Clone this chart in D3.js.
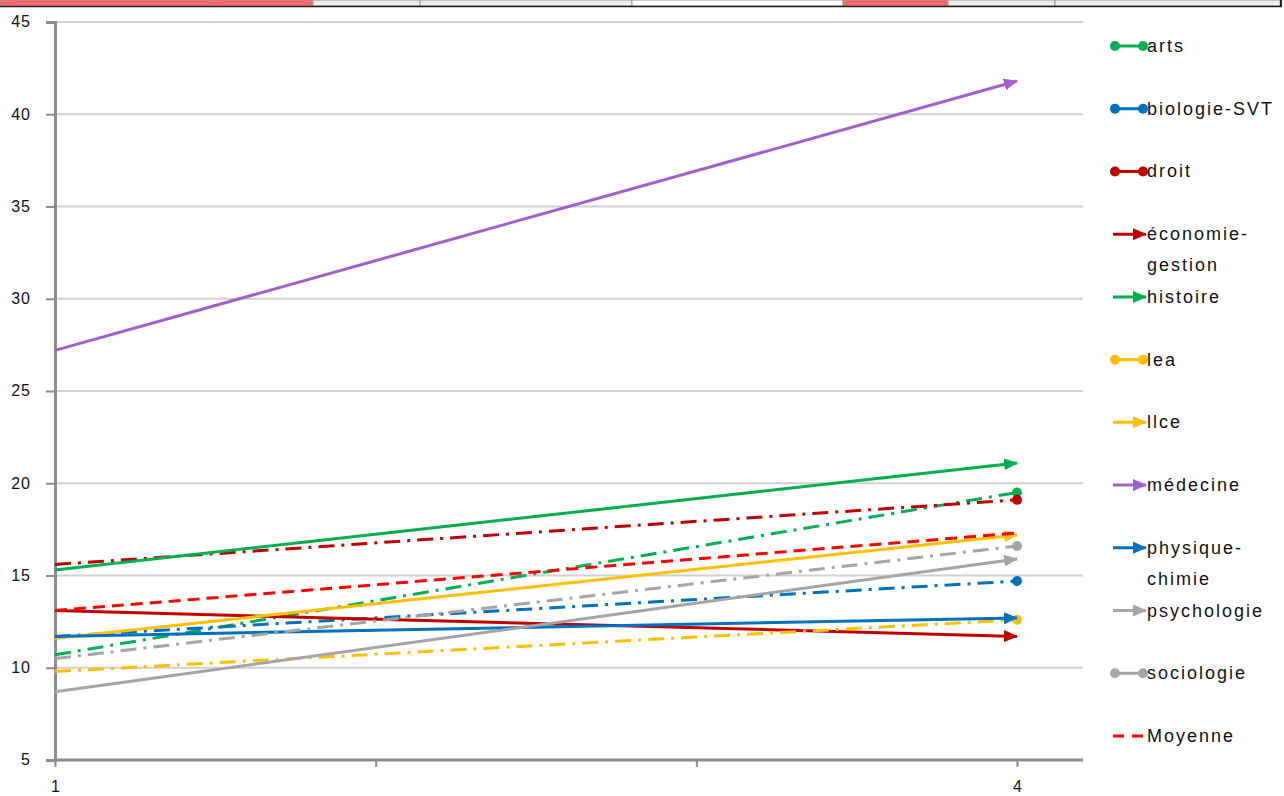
<!DOCTYPE html>
<html><head><meta charset="utf-8">
<script src="https://cdn.jsdelivr.net/npm/d3@7"></script>
<style>body{margin:0;background:#fff;}svg{display:block;}</style>
</head><body><svg id="c" width="1284" height="796"></svg>
<script>
const categories = ["1", "2", "3", "4"];
const shownCategoryLabels = ["1", "4"];
const yTicks = [5, 10, 15, 20, 25, 30, 35, 40, 45];

const seriesNames = ["arts", "biologie-SVT", "droit", "économie-gestion", "histoire", "lea", "llce", "médecine", "physique-chimie", "psychologie", "sociologie", "Moyenne"];
const legendLabels = [["arts"], ["biologie-SVT"], ["droit"], ["économie-", "gestion"], ["histoire"], ["lea"], ["llce"], ["médecine"], ["physique-", "chimie"], ["psychologie"], ["sociologie"], ["Moyenne"]];

const arts          = [10.7, null, null, 19.5];
const biologieSVT   = [11.7, null, null, 14.7];
const droit         = [15.6, null, null, 19.1];
const economie      = [13.1, null, null, 11.7];
const histoire      = [15.3, null, null, 21.1];
const lea           = [9.8,  null, null, 12.6];
const llce          = [11.6, null, null, 17.2];
const medecine      = [27.2, null, null, 41.8];
const physique      = [11.7, null, null, 12.7];
const psychologie   = [8.7,  null, null, 15.9];
const sociologie    = [10.5, null, null, 16.6];
const moyenne       = [13.1, null, null, 17.3];
const seriesValues = [arts, biologieSVT, droit, economie, histoire, lea, llce, medecine, physique, psychologie, sociologie, moyenne];

const colors = ["#00B050", "#0070C0", "#C00000", "#C00000", "#00B050", "#FFC000", "#FFC000", "#A35FC9", "#0070C0", "#A5A5A5", "#A5A5A5", "#FF0000"];
const styles = ["dashdot", "dashdot", "dashdot", "arrow", "arrow", "dashdot", "arrow", "arrow", "arrow", "arrow", "dashdot", "dash"];

const svg = d3.select("#c");
const FONT = "Liberation Sans, Arial, sans-serif";

// spreadsheet strip at top
const stripEdges = [0, 208, 313, 420, 632, 843, 948, 1055, 1280];
const stripFill = ["#FF6666", "#FF6666", "#EDEDED", "#EDEDED", "#FFFFFF", "#FF6666", "#EDEDED", "#EDEDED"];
const strip = svg.append("g");
strip.selectAll("rect").data(stripFill).join("rect")
  .attr("x", (d,i)=>stripEdges[i]).attr("y", 0)
  .attr("width", (d,i)=>stripEdges[i+1]-stripEdges[i]).attr("height", 6)
  .attr("fill", d=>d).attr("stroke", "#9a9a9a").attr("stroke-width", 1);
strip.append("line").attr("x1",0).attr("x2",1282).attr("y1",6.5).attr("y2",6.5).attr("stroke","#222").attr("stroke-width",1.5);
strip.append("line").attr("x1",1281).attr("x2",1281).attr("y1",0).attr("y2",7).attr("stroke","#222").attr("stroke-width",2);

const x = d3.scalePoint().domain(categories).range([55, 1017]);
const y = d3.scaleLinear().domain([5, 45]).range([760, 22]);
const plotRight = 1083;

// gridlines
svg.append("g").selectAll("line").data(yTicks.filter(t=>t>5)).join("line")
  .attr("x1", 55).attr("x2", plotRight).attr("y1", d=>y(d)).attr("y2", d=>y(d))
  .attr("stroke", "#D0D0D0").attr("stroke-width", 2);

// y axis
const yAxis = svg.append("g").attr("transform", "translate(55,0)")
  .call(d3.axisLeft(y).tickValues(yTicks).tickSize(9).tickPadding(15));
yAxis.attr("font-size", 16).attr("font-family", FONT);
yAxis.select(".domain").attr("stroke", "#8C8C8C").attr("stroke-width", 3);
yAxis.selectAll(".tick line").attr("stroke", "#8C8C8C").attr("stroke-width", 2);
yAxis.selectAll(".tick text").style("font-size", "16px").attr("letter-spacing", 1)
  .attr("fill", "#111").attr("dy", "0.3em");

// x axis
const xAxis = svg.append("g").attr("transform", "translate(0,760)")
  .call(d3.axisBottom(x).tickSize(7).tickPadding(14).tickSizeOuter(0)
    .tickFormat(d => shownCategoryLabels.includes(d) ? d : ""));
xAxis.attr("font-size", 16).attr("font-family", FONT);
xAxis.select(".domain").attr("d", `M55,0H${plotRight}`).attr("stroke", "#8C8C8C").attr("stroke-width", 3);
xAxis.selectAll(".tick line").attr("stroke", "#8C8C8C").attr("stroke-width", 2);
xAxis.selectAll(".tick text").style("font-size", "16px").attr("fill", "#111");

// markers
const defs = svg.append("defs");
colors.forEach((c, i) => {
  defs.append("marker").attr("id", "arrow" + i)
    .attr("viewBox", "0 0 14 14").attr("refX", 13).attr("refY", 7)
    .attr("markerWidth", 14).attr("markerHeight", 14)
    .attr("markerUnits", "userSpaceOnUse").attr("orient", "auto")
    .append("path").attr("d", "M0,1 L14,7 L0,13 Z").attr("fill", c);
  defs.append("marker").attr("id", "dot" + i)
    .attr("viewBox", "0 0 11 11").attr("refX", 5.5).attr("refY", 5.5)
    .attr("markerWidth", 11).attr("markerHeight", 11)
    .attr("markerUnits", "userSpaceOnUse").attr("orient", "auto")
    .append("circle").attr("cx", 5.5).attr("cy", 5.5).attr("r", 5).attr("fill", c);
});

const dashFor = s => s === "dashdot" ? "16,7,3,7" : (s === "dash" ? "12,7" : null);

const line = d3.line().x(d => x(d.cat)).y(d => y(d.v));
const lines = svg.append("g");
seriesValues.forEach((vals, i) => {
  const pts = categories.map((c, j) => ({cat: c, v: vals[j]})).filter(p => p.v != null);
  const p = lines.append("path").datum(pts).attr("d", line)
    .attr("fill", "none").attr("stroke", colors[i]).attr("stroke-width", 3)
    .attr("stroke-dasharray", dashFor(styles[i]));
  if (styles[i] === "arrow") p.attr("marker-end", `url(#arrow${i})`);
  if (styles[i] === "dashdot") p.attr("marker-end", `url(#dot${i})`);
});

// legend
const legendY = d3.scalePoint().domain(seriesNames).range([46, 736]);
const lg = svg.append("g");
seriesNames.forEach((name, i) => {
  const yy = legendY(name);
  const g = lg.append("g");
  if (styles[i] === "dash") {
    g.append("line").attr("x1", 1113).attr("x2", 1145).attr("y1", yy).attr("y2", yy)
      .attr("stroke", colors[i]).attr("stroke-width", 3).attr("stroke-dasharray", "11,8");
  } else if (styles[i] === "arrow") {
    g.append("line").attr("x1", 1113).attr("x2", 1146).attr("y1", yy).attr("y2", yy)
      .attr("stroke", colors[i]).attr("stroke-width", 3).attr("marker-end", `url(#arrow${i})`);
  } else {
    g.append("line").attr("x1", 1115).attr("x2", 1143).attr("y1", yy).attr("y2", yy)
      .attr("stroke", colors[i]).attr("stroke-width", 3)
      .attr("marker-start", `url(#dot${i})`).attr("marker-end", `url(#dot${i})`);
  }
  const t = g.append("text").attr("x", 1147).attr("y", yy + 6)
    .attr("font-family", FONT).attr("font-size", 18).attr("letter-spacing", 2).attr("fill", "#111");
  legendLabels[i].forEach((s, k) => {
    t.append("tspan").attr("x", 1147).attr("dy", k === 0 ? 0 : 31).text(s);
  });
});
</script></body></html>
